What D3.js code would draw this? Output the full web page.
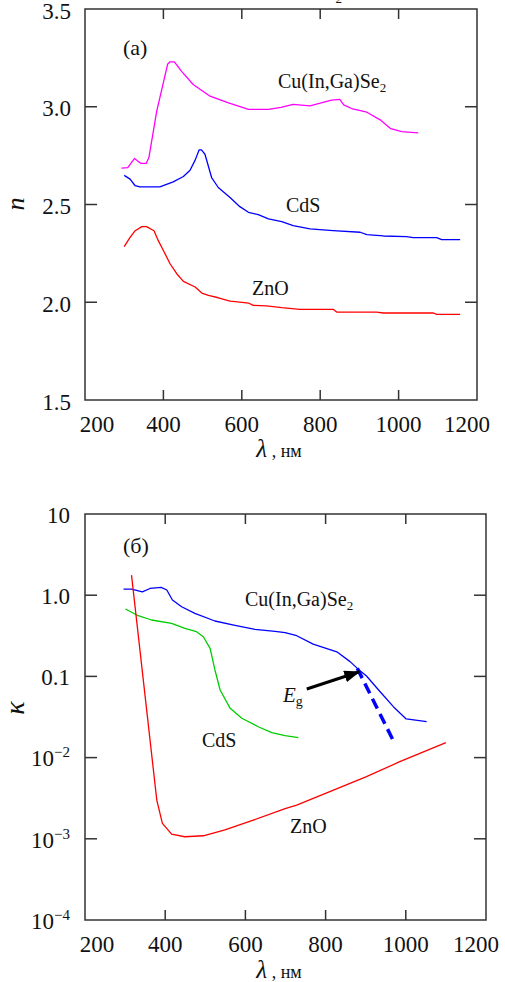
<!DOCTYPE html>
<html>
<head>
<meta charset="utf-8">
<script src="https://cdn.jsdelivr.net/npm/d3@7/dist/d3.min.js"></script>
</head>
<body style="margin:0">
<script>
// wavelength ticks shared by both panels
const lambdaTicks = [200, 400, 600, 800, 1000, 1200];
const nTicks = [1.5, 2.0, 2.5, 3.0, 3.5];
const kTicks = [1e-4, 1e-3, 1e-2, 0.1, 1, 10];

// (a) refractive index n, [lambda nm, n]
const cigsN = [[293,2.686],[309,2.689],[326,2.735],[343,2.71],[356,2.71],[363,2.74],[383,2.978],[411,3.219],
  [417,3.23],[428,3.23],[447,3.18],[476,3.114],[519,3.054],[566,3.02],[617,2.987],[668,2.987],[700,2.997],
  [731,3.012],[774,3.005],[800,3.018],[829,3.034],[850,3.038],[860,3.01],[880,2.991],[919,2.972],[953,2.933],
  [980,2.888],[1008,2.873],[1050,2.866]];
const cdsN = [[300,2.649],[315,2.63],[328,2.596],[340,2.59],[391,2.59],[425,2.616],[451,2.643],[468,2.675],
  [481,2.727],[491,2.779],[497,2.779],[506,2.757],[523,2.638],[540,2.587],[570,2.536],[595,2.489],[617,2.46],
  [642,2.448],[668,2.426],[702,2.412],[731,2.392],[774,2.375],[833,2.366],[902,2.358],[919,2.346],[961,2.339],
  [1020,2.336],[1037,2.331],[1097,2.331],[1110,2.32],[1157,2.32]];
const znoN = [[300,2.285],[315,2.332],[328,2.366],[345,2.387],[357,2.387],[376,2.366],[387,2.315],[400,2.265],
  [417,2.197],[434,2.146],[451,2.107],[481,2.078],[498,2.047],[515,2.035],[540,2.023],[570,2.006],[595,2.001],
  [617,1.996],[629,1.984],[663,1.981],[702,1.972],[748,1.964],[833,1.964],[842,1.95],[944,1.95],[961,1.945],
  [1089,1.945],[1097,1.938],[1157,1.938]];

// (б) extinction coefficient k, [lambda nm, k]
const cigsK = [[296,1.19],[316,1.19],[343,1.10],[362,1.21],[390,1.25],[404,1.16],[418,0.873],[441,0.72],
  [474,0.598],[524,0.481],[574,0.426],[624,0.38],[674,0.359],[699,0.345],[728,0.317],[769,0.25],[828,0.201],
  [861,0.152],[882,0.122],[902,0.101],[936,0.0648],[969,0.0424],[1001,0.0299],[1052,0.0277]];
const cigsEdge = [[879,0.126],[969,0.0161]];
const cdsK = [[301,0.676],[329,0.57],[366,0.495],[416,0.451],[449,0.391],[478,0.355],[495,0.308],[512,0.221],
  [524,0.12],[537,0.068],[562,0.0404],[591,0.0305],[632,0.024],[666,0.0203],[699,0.0186],[732,0.0176]];
const znoK = [[316,1.77],[379,0.0030],[393,0.00155],[416,0.00114],[449,0.00106],[495,0.00109],[549,0.00129],
  [616,0.00167],[699,0.00235],[728,0.0026],[902,0.00582],[985,0.0089],[1100,0.0153]];
const egArrow = [[753,0.07],[884,0.114]];

const W = 505, H = 982;
const tickFont = 23;
const fam = 'Liberation Serif';

const svg = d3.select('body').append('svg')
  .attr('width', W)
  .attr('height', H);

svg.append('defs').append('marker')
  .attr('id', 'head')
  .attr('markerUnits', 'userSpaceOnUse')
  .attr('viewBox', '0 0 16 12')
  .attr('refX', 15).attr('refY', 6)
  .attr('markerWidth', 16).attr('markerHeight', 12)
  .attr('orient', 'auto')
  .append('path')
  .attr('d', 'M0,0 L16,6 L0,12 Z')
  .attr('fill', '#000');

// every text goes through here so it gets the serif face
function addText(px, py, size) {
  return svg.append('text')
    .attr('x', px).attr('y', py)
    .attr('font-size', size)
    .attr('fill', '#111')
    .style('font-family', `'${fam}'`);
}

// frame + inward ticks on all four sides
function drawFrame(x, y, yTickVals, xTickVals) {
  const [x0, x1] = x.range();
  const [y0, y1] = y.range(); // y0 bottom, y1 top
  const g = svg.append('g');
  g.append('rect')
    .attr('x', x0).attr('y', y1)
    .attr('width', x1 - x0).attr('height', y0 - y1)
    .attr('fill', 'none').attr('stroke', '#333').attr('stroke-width', 1.5);
  xTickVals.forEach(v => {
    g.append('line').attr('x1', x(v)).attr('x2', x(v)).attr('y1', y0).attr('y2', y0 - 10)
      .attr('stroke', '#333').attr('stroke-width', 1.5);
    g.append('line').attr('x1', x(v)).attr('x2', x(v)).attr('y1', y1).attr('y2', y1 + 10)
      .attr('stroke', '#333').attr('stroke-width', 1.5);
  });
  yTickVals.forEach(v => {
    g.append('line').attr('x1', x0).attr('x2', x0 + 12).attr('y1', y(v)).attr('y2', y(v))
      .attr('stroke', '#333').attr('stroke-width', 1.5);
    g.append('line').attr('x1', x1).attr('x2', x1 - 12).attr('y1', y(v)).attr('y2', y(v))
      .attr('stroke', '#333').attr('stroke-width', 1.5);
  });
}

function drawXLabels(x, yBase) {
  const last = lambdaTicks.length - 1;
  lambdaTicks.forEach((v, i) => {
    // end labels are nudged inside the frame corners
    const dx = i === 0 ? 12 : (i === last ? -10 : 0);
    addText(x(v) + dx, yBase, tickFont)
      .attr('text-anchor', 'middle')
      .text(v);
  });
}

function drawLambdaTitle(cx, yBase) {
  const t = addText(cx, yBase, 25).attr('text-anchor', 'middle');
  t.append('tspan').attr('font-style', 'italic').text('λ');
  t.append('tspan').attr('font-size', 18).text(' , нм');
}

function drawSeries(data, x, y, color, width, dash) {
  const line = d3.line().x(d => x(d[0])).y(d => y(d[1]));
  svg.append('path')
    .datum(data)
    .attr('d', line)
    .attr('fill', 'none')
    .attr('stroke', color)
    .attr('stroke-width', width)
    .attr('stroke-dasharray', dash || null)
    .attr('stroke-linejoin', 'round');
}

function label(txt, px, py, size, sub, subDy) {
  const t = addText(px, py, size);
  t.append('tspan').text(txt);
  if (sub) t.append('tspan').attr('font-size', size * 0.65).attr('dy', subDy || 4).text(sub);
  return t;
}

// ---------- panel (a) ----------
const xA = d3.scaleLinear().domain([200, 1200]).range([85, 477]);
const yA = d3.scaleLinear().domain([1.5, 3.5]).range([400, 9]);

drawFrame(xA, yA, [2.0, 2.5, 3.0], [400, 600, 800, 1000]);

nTicks.forEach(v => {
  addText(71, yA(v), tickFont)
    .attr('dy', '0.42em')
    .attr('text-anchor', 'end')
    .text(d3.format('.1f')(v));
});
drawXLabels(xA, 432);
drawLambdaTitle(279, 457);

addText(0, 0, 26)
  .attr('transform', 'translate(24,204) rotate(-90)')
  .attr('text-anchor', 'middle')
  .attr('font-style', 'italic')
  .text('n');

drawSeries(cigsN, xA, yA, '#ff00ff', 1.3);
drawSeries(cdsN, xA, yA, '#0000ff', 1.3);
drawSeries(znoN, xA, yA, '#ff0000', 1.3);

// title line cut off above the picture, only its subscript shows
label('Cu(In,Ga)Se', 342, -10, 20, '2', 13).attr('text-anchor', 'end');

label('(a)', 123, 55, 22);
label('Cu(In,Ga)Se', 278, 88, 20, '2');
label('CdS', 286, 212, 20);
label('ZnO', 252, 295, 20);

// ---------- panel (б) ----------
const xB = d3.scaleLinear().domain([200, 1200]).range([85, 486]);
const yB = d3.scaleLog().domain([1e-4, 10]).range([920, 514]);

drawFrame(xB, yB, [1e-3, 1e-2, 0.1, 1], [400, 600, 800, 1000]);

kTicks.forEach(v => {
  const t = addText(70, yB(v), tickFont)
    .attr('dy', '0.38em')
    .attr('text-anchor', 'end');
  if (v === 10) t.text('10');
  else if (v >= 0.1) t.text(d3.format('.1f')(v));
  else {
    t.append('tspan').text('10');
    t.append('tspan').attr('font-size', 15).attr('dy', -9).text('−' + Math.round(-Math.log10(v)));
  }
});
drawXLabels(xB, 952);
drawLambdaTitle(279, 978);

addText(0, 0, 28)
  .attr('transform', 'translate(24,708) rotate(-90)')
  .attr('text-anchor', 'middle')
  .attr('font-style', 'italic')
  .text('κ');

drawSeries(cigsK, xB, yB, '#0000ff', 1.3);
drawSeries(cigsEdge, xB, yB, '#0000ff', 3.5, '11,6');
drawSeries(cdsK, xB, yB, '#00cc00', 1.3);
drawSeries(znoK, xB, yB, '#ff0000', 1.3);

svg.append('line')
  .attr('x1', xB(egArrow[0][0])).attr('y1', yB(egArrow[0][1]))
  .attr('x2', xB(egArrow[1][0])).attr('y2', yB(egArrow[1][1]))
  .attr('stroke', '#000')
  .attr('stroke-width', 3)
  .attr('marker-end', 'url(#head)');

label('(б)', 123, 553, 22);
label('Cu(In,Ga)Se', 245, 606, 20, '2');
label('CdS', 202, 747, 20);
label('ZnO', 290, 833, 20);
const eg = label('', 283, 702, 21);
eg.select('tspan').attr('font-style', 'italic').text('E');
eg.append('tspan').attr('font-size', 14).attr('dy', 4).text('g');
</script>
</body>
</html>
